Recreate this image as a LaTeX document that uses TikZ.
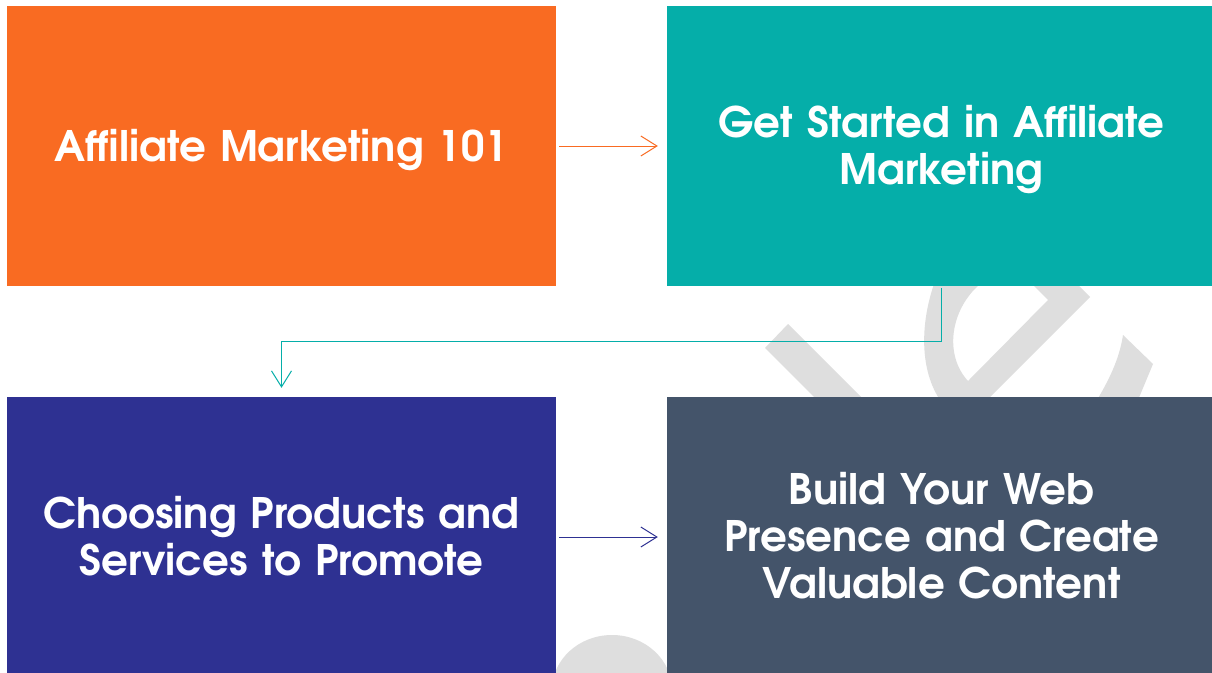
\documentclass[tikz,border=0pt]{standalone}
\usepackage{fontspec}
\newfontfamily\boxfont{texgyreadventor-bold.otf}
\usetikzlibrary{arrows.meta}
\definecolor{orangebox}{HTML}{F96B22}
\definecolor{tealbox}{HTML}{05AEA9}
\definecolor{navybox}{HTML}{2E3192}
\definecolor{slatebox}{HTML}{44546A}
\definecolor{wmgray}{HTML}{DEDEDE}
\begin{document}
\begin{tikzpicture}[x=1pt,y=-1pt,
  card/.style={rectangle, minimum width=549pt, minimum height=280pt,
    inner sep=0pt},
  cardtext/.style={inner sep=0pt, text=white, align=center, text width=530pt,
    font=\boxfont\fontsize{42}{47}\selectfont},
  link/.style={line width=1pt,
    -{Straight Barb[length=16pt,width=20pt,line width=1pt]}},
  wm/.style={fill=wmgray, draw=none}]
\useasboundingbox (0,0) rectangle (1212,672);
\fill[white] (0,0) rectangle (1212,672);

% light grey background mark, partly hidden by the cards
\fill[wm] (765,348) -- (788,324) -- (988,524) -- (965,548) -- cycle;
\fill[wm, even odd rule]
  (934,284) .. controls (920,325) and (920,370) .. (940,400)
  -- (987,400) -- (1090,297) -- (1077,284) -- cycle
  (980,284) .. controls (950,310) and (944,355) .. (968,381)
  -- (1048,300) -- (1032,284) -- cycle;
\fill[wm] (1097,400) .. controls (1112,375) and (1120,355) .. (1123,335)
  -- (1153,364) -- (1138,400) -- cycle;
\fill[wm] (612,690) ellipse [x radius=60, y radius=55];

% the four steps
\node[card, fill=orangebox,
  label={[cardtext, yshift=-4pt]center:Affiliate Marketing 101}]
  (intro) at (281.5,146) {};
\node[card, fill=tealbox,
  label={[cardtext, yshift=-4pt]center:Get Started in Affiliate\\Marketing}]
  (start) at (941.5,146) {};
\node[card, fill=navybox,
  label={[cardtext, yshift=1pt]center:Choosing Products and\\Services to Promote}]
  (choose) at (281.5,537) {};
\node[card, fill=slatebox,
  label={[cardtext, yshift=1pt]center:Build Your Web\\Presence and Create\\Valuable Content}]
  (build) at (941.5,537) {};

% connectors
\draw[link, orangebox, shorten <=3pt, shorten >=9pt] (intro.east) -- (start.west);
\draw[link, tealbox, shorten <=2pt, shorten >=9pt]
  (start.south) -- ++(0,55.5) -| (choose.north);
\draw[link, navybox, shorten <=3pt, shorten >=9pt] (choose.east) -- (build.west);
\end{tikzpicture}
\end{document}
